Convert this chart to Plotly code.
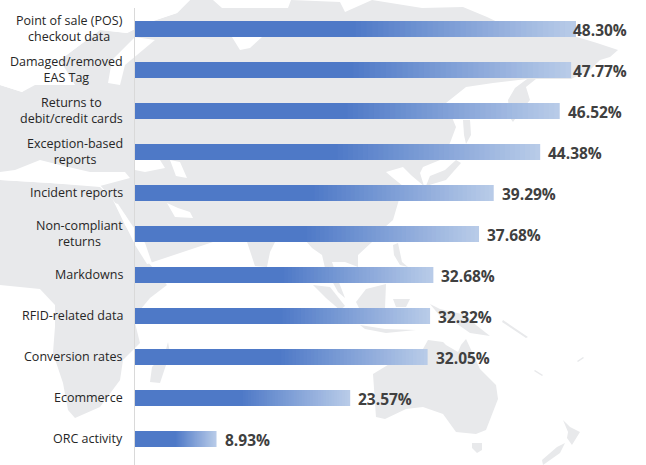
import plotly.graph_objects as go

categories = ["Point of sale (POS)<br>checkout data", "Damaged/removed<br>EAS Tag", "Returns to<br>debit/credit cards",
              "Exception-based<br>reports", "Incident reports", "Non-compliant<br>returns", "Markdowns",
              "RFID-related data", "Conversion rates", "Ecommerce", "ORC activity"]
values = [48.30, 47.77, 46.52, 44.38, 39.29, 37.68, 32.68, 32.32, 32.05, 23.57, 8.93]
value_labels = ["48.30%", "47.77%", "46.52%", "44.38%", "39.29%", "37.68%", "32.68%", "32.32%", "32.05%", "23.57%", "8.93%"]
label_shift = [-5, 0, 6, 6, 6, 6, 6, 6, 6, 6, 6]

W, H = 646, 465
MAP_GRAY = "#E8E9EB"

# background map, traced by hand in window pixels
eurasia = [(0, 85), (22, 92), (60, 60), (100, 30), (127, 33), (147, 23), (177, 13), (190, 0), (213, 0), (222, 8), (288, 8),
           (291, 0), (340, 2), (345, 12), (372, 0), (422, 8), (463, 7), (487, 17), (510, 28), (577, 37), (597, 43), (618, 50),
           (610, 57), (600, 60), (590, 70), (571, 79), (536, 79), (526, 87), (530, 100), (520, 112), (513, 122), (510, 118),
           (508, 100), (515, 88), (527, 79), (493, 83), (466, 87), (446, 103), (456, 127), (450, 143), (440, 160), (423, 167),
           (420, 173), (424, 186), (412, 176), (403, 167), (386, 172), (393, 178), (403, 186), (398, 203), (393, 220), (385, 227),
           (372, 242), (358, 255), (358, 267), (345, 262), (332, 262), (340, 285), (345, 298), (338, 292), (325, 268), (322, 255),
           (312, 248), (298, 232), (275, 242), (270, 252), (267, 267), (255, 266), (247, 242), (240, 226), (222, 226), (213, 242),
           (150, 263), (148, 262), (140, 240), (125, 215), (113, 200), (100, 185), (60, 183), (30, 180), (0, 178)]
africa = [(0, 180), (50, 183), (100, 187), (113, 200), (125, 225), (135, 242), (148, 262), (167, 285), (150, 298), (140, 310),
          (135, 323), (140, 343), (123, 360), (120, 380), (100, 407), (75, 418), (68, 410), (63, 383), (53, 353), (55, 327),
          (55, 305), (40, 289), (0, 285)]
madagascar = [(168, 342), (170, 353), (160, 383), (150, 382), (152, 367), (165, 353)]
japan = [(461, 163), (446, 180), (426, 186), (430, 176), (445, 170), (456, 160)]
sakhalin = [(463, 120), (470, 120), (471, 135), (466, 144), (464, 135)]
sumatra = [(313, 285), (330, 287), (345, 306), (340, 310), (326, 298)]
borneo = [(356, 302), (366, 289), (386, 284), (385, 308), (360, 310)]
sulawesi = [(393, 299), (410, 299), (406, 307), (396, 307)]
java = [(360, 325), (385, 329), (416, 330), (386, 333), (365, 329)]
philippines = [(393, 245), (398, 243), (402, 262), (408, 267), (400, 265), (394, 255)]
new_guinea = [(430, 304), (440, 309), (466, 315), (476, 325), (490, 336), (470, 333), (453, 321), (440, 316)]
solomon = [(503, 320), (528, 337), (526, 338), (502, 322)]
caledonia = [(535, 370), (543, 375), (542, 376), (534, 371)]
fiji = [(577, 361), (583, 357), (584, 358), (578, 362)]
australia = [(373, 374), (396, 360), (403, 355), (423, 349), (428, 340), (443, 342), (446, 345), (458, 352), (461, 345), (466, 339),
             (480, 369), (496, 385), (498, 399), (486, 430), (476, 434), (456, 432), (443, 414), (423, 407), (406, 409), (385, 419), (376, 417)]
tasmania = [(472, 443), (482, 443), (482, 450), (477, 453), (472, 448)]
nz_north = [(563, 420), (570, 427), (580, 432), (572, 445), (567, 438), (568, 432)]
nz_south = [(565, 443), (560, 453), (543, 465), (542, 460), (557, 447)]
land = [eurasia, africa, madagascar, japan, sakhalin, sumatra, borneo, sulawesi, java, philippines,
        new_guinea, solomon, caledonia, fiji, australia, tasmania, nz_north, nz_south]

# water drawn back over the land
mediterranean = [(0, 172), (15, 170), (40, 160), (60, 165), (90, 172), (125, 172), (130, 178), (100, 186), (50, 183), (0, 180)]
black_sea = [(135, 160), (160, 160), (165, 168), (145, 172), (135, 170)]
caspian = [(170, 160), (180, 162), (187, 178), (176, 176)]
baltic = [(135, 37), (155, 40), (125, 65), (120, 85), (108, 83), (112, 60)]
white_sea = [(232, 37), (240, 50), (250, 48), (262, 37)]
north_sea = [(0, 0), (190, 0), (177, 13), (147, 23), (127, 33), (100, 30), (60, 60), (75, 85), (35, 85), (22, 92), (0, 85)]
gulf = [(167, 203), (175, 217), (193, 218), (190, 212), (178, 208)]
red_sea = [(115, 203), (118, 204), (132, 225), (145, 243), (152, 263), (147, 264), (135, 245), (127, 228)]
water = [mediterranean, black_sea, caspian, baltic, white_sea, north_sea, gulf, red_sea]


def to_path(points):
    # shapes use paper coordinates, the margins are 0 so paper = window
    parts = [f"{x / W:.4f},{1 - y / H:.4f}" for x, y in points]
    return "M" + "L".join(parts) + "Z"


shapes = []
for poly in land:
    shapes.append(dict(type="path", path=to_path(poly), xref="paper", yref="paper", layer="below",
                       fillcolor=MAP_GRAY, line=dict(width=0)))
for poly in water:
    shapes.append(dict(type="path", path=to_path(poly), xref="paper", yref="paper", layer="below",
                       fillcolor="white", line=dict(width=0)))
shapes.append(dict(type="line", xref="paper", yref="paper", x0=134.5 / W, x1=134.5 / W, y0=0, y1=1 - 8 / H,
                   layer="below", line=dict(color="#D9D9D9", width=1)))

fig = go.Figure()

# no gradient fill on bars, so overlay shorter and shorter bars going from light to dark
steps = 40
start_col = (78, 121, 199)
end_col = (184, 203, 232)
for k in range(steps + 1):
    t = k / steps
    col = [round(end_col[i] + (start_col[i] - end_col[i]) * t) for i in range(3)]
    fig.add_trace(go.Bar(
        y=categories,
        x=[v * (1 - 0.5 * t) for v in values],
        orientation="h",
        width=16 / 41,
        marker=dict(color=f"rgb({col[0]},{col[1]},{col[2]})", line=dict(width=0)),
        showlegend=False,
        hoverinfo="skip",
    ))

annotations = []
for i, cat in enumerate(categories):
    annotations.append(dict(x=124.5 / W, xref="paper", y=cat, yref="y", text=cat, showarrow=False,
                            xanchor="right", align="center", yshift=1,
                            font=dict(family="Open Sans", size=12.5, color="#262626")))
    annotations.append(dict(x=values[i], xref="x", y=cat, yref="y", text=value_labels[i], showarrow=False,
                            xanchor="left", xshift=label_shift[i], yshift=-1,
                            font=dict(family="Open Sans", size=15.5, color="#404040", weight="bold")))

fig.update_layout(
    width=W, height=H,
    margin=dict(l=0, r=0, t=0, b=0),
    barmode="overlay",
    paper_bgcolor="white", plot_bgcolor="rgba(0,0,0,0)",
    shapes=shapes,
    annotations=annotations,
    xaxis=dict(domain=[135 / W, 1], range=[0, 511 / 9.13], visible=False),
    yaxis=dict(type="category", categoryorder="array", categoryarray=categories,
               range=[10 + 26 / 41, -29 / 41], showticklabels=False, showgrid=False, zeroline=False, ticks=""),
)

# the page body has a default margin that would push the chart 8px in
fig.write_html("out.html", config={"displayModeBar": False}, post_script="document.body.style.margin = '0';")
